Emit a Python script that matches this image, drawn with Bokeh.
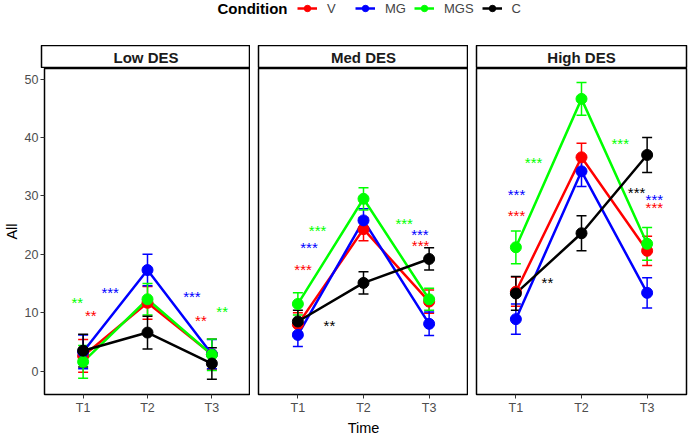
from bokeh.plotting import figure
from bokeh.models import (ColumnDataSource, Range1d, FixedTicker, Whisker, TeeHead,
                          Label, Legend, LegendItem)
from bokeh.layouts import column, row
from bokeh.embed import file_html
from bokeh.resources import INLINE
from bokeh.core.properties import value

FONT = "Liberation Sans"

# ---------------- data ----------------
times = ["T1", "T2", "T3"]
time_pos = [1, 2, 3]
panels = ["Low DES", "Med DES", "High DES"]
conditions = ["V", "MG", "MGS", "C"]
cond_colors = ["#FF0000", "#0000FF", "#00FF00", "#000000"]

# means (All) per panel and condition
low_V = [2.6, 11.7, 2.9]
low_MG = [3.3, 17.3, 2.9]
low_MGS = [1.6, 12.3, 2.8]
low_C = [3.5, 6.6, 1.3]

med_V = [8.0, 24.3, 11.9]
med_MG = [6.2, 25.8, 8.1]
med_MGS = [11.5, 29.5, 12.3]
med_C = [8.5, 15.1, 19.2]

high_V = [13.6, 36.6, 20.6]
high_MG = [8.9, 34.2, 13.4]
high_MGS = [21.2, 46.6, 21.8]
high_C = [13.3, 23.6, 37.0]

# standard errors
low_V_se = [2.8, 2.8, 2.6]
low_MG_se = [2.9, 2.7, 2.5]
low_MGS_se = [2.8, 2.7, 2.7]
low_C_se = [2.8, 2.8, 2.7]

med_V_se = [2.0, 2.0, 2.0]
med_MG_se = [2.0, 2.0, 2.0]
med_MGS_se = [1.9, 1.9, 1.9]
med_C_se = [1.9, 1.9, 1.9]

high_V_se = [2.5, 2.4, 2.5]
high_MG_se = [2.6, 2.6, 2.6]
high_MGS_se = [2.8, 2.8, 2.8]
high_C_se = [2.9, 3.0, 3.0]

means = {
    "Low DES": [low_V, low_MG, low_MGS, low_C],
    "Med DES": [med_V, med_MG, med_MGS, med_C],
    "High DES": [high_V, high_MG, high_MGS, high_C],
}
ses = {
    "Low DES": [low_V_se, low_MG_se, low_MGS_se, low_C_se],
    "Med DES": [med_V_se, med_MG_se, med_MGS_se, med_C_se],
    "High DES": [high_V_se, high_MG_se, high_MGS_se, high_C_se],
}

# significance annotations
low_sig_x = [0.91, 1.12, 1.42, 2.69, 2.83, 3.16]
low_sig_y = [12.6, 10.4, 14.3, 13.6, 9.5, 11.1]
low_sig_label = ["**", "**", "***", "***", "**", "**"]
low_sig_cond = ["MGS", "V", "MG", "MG", "V", "MGS"]

med_sig_x = [1.30, 1.17, 1.08, 1.48, 2.62, 2.86, 2.87]
med_sig_y = [24.9, 22.0, 18.2, 8.7, 26.1, 24.2, 22.4]
med_sig_label = ["***", "***", "***", "**", "***", "***", "***"]
med_sig_cond = ["MGS", "MG", "V", "C", "MGS", "MG", "V"]

high_sig_x = [1.27, 1.01, 1.01, 1.48, 2.59, 2.84, 3.11, 3.11]
high_sig_y = [36.6, 31.1, 27.5, 16.0, 39.8, 31.4, 30.3, 28.8]
high_sig_label = ["***", "***", "***", "**", "***", "***", "***", "***"]
high_sig_cond = ["MGS", "MG", "V", "C", "MGS", "C", "MG", "V"]

sigs = {
    "Low DES": (low_sig_x, low_sig_y, low_sig_label, low_sig_cond),
    "Med DES": (med_sig_x, med_sig_y, med_sig_label, med_sig_cond),
    "High DES": (high_sig_x, high_sig_y, high_sig_label, high_sig_cond),
}

y_ticks = [0, 10, 20, 30, 40, 50]

color_of = dict(zip(conditions, cond_colors))

# ---------------- layout constants ----------------
LEG_H = 45
STRIP_H = 23
PANEL_H = 370
widths = [250, 218, 220]
lefts = [41, 8, 8]
rights = [0, 0, 2]


def base_fig(**kw):
    return figure(output_backend="svg", toolbar_location=None, **kw)


# ---------------- legend row ----------------
# The legend strip reuses the Low DES series as its (off-range) legend renderers.
leg = base_fig(width=688, height=LEG_H, x_range=Range1d(100, 101), y_range=Range1d(100, 101),
               x_axis_location=None, y_axis_location=None, min_border=0)
leg.grid.visible = False
leg.outline_line_color = None
items = []
for c, m in zip(conditions, means["Low DES"]):
    lr = leg.line(x=time_pos, y=m, line_color=color_of[c], line_width=2.5)
    sr = leg.scatter(x=time_pos, y=m, size=10, fill_color=color_of[c], line_color=color_of[c])
    items.append(LegendItem(label=c, renderers=[lr, sr]))
legend = Legend(items=items, orientation="horizontal", location=(297, LEG_H - 16),
                padding=0, margin=0, spacing=8, glyph_width=20, glyph_height=16,
                label_height=16, label_standoff=10, border_line_color=None,
                background_fill_alpha=0, label_text_font=FONT, label_text_font_size="13px",
                label_text_baseline="middle")
leg.add_layout(legend, "center")
leg.add_layout(Label(x=217, y=LEG_H - 8, x_units="screen", y_units="screen", text="Condition",
                     text_font=FONT, text_font_size="15px", text_font_style="bold",
                     text_baseline="middle", text_color="black"))

# ---------------- strips and panels ----------------
strips = []
figs = []
for i, pname in enumerate(panels):
    s = base_fig(width=widths[i], height=STRIP_H, x_range=Range1d(0, 1), y_range=Range1d(0, 1),
                 x_axis_location=None, y_axis_location=None,
                 min_border_left=lefts[i], min_border_right=rights[i],
                 min_border_top=0, min_border_bottom=0)
    s.grid.visible = False
    s.outline_line_color = "black"
    s.outline_line_width = 1.5
    s.add_layout(Label(x=0.5, y=0.5, text=pname, text_align="center", text_baseline="middle",
                       text_font=FONT, text_font_size="15px", text_font_style="bold",
                       text_color="#1A1A1A"))
    strips.append(s)

    p = base_fig(width=widths[i], height=PANEL_H, x_range=Range1d(0.4, 3.6),
                 y_range=Range1d(-4.0, 51.8),
                 y_axis_location="left" if i == 0 else None,
                 min_border_left=lefts[i], min_border_right=rights[i],
                 min_border_top=0, min_border_bottom=36)
    p.grid.visible = False
    p.outline_line_color = "black"
    p.outline_line_width = 1.5
    p.background_fill_color = "white"

    p.xaxis.ticker = FixedTicker(ticks=time_pos)
    p.xaxis.major_label_overrides = {t: lab for t, lab in zip(time_pos, times)}
    p.xaxis.axis_label = "Time" if i == 1 else " "
    for ax in p.axis:
        ax.axis_line_color = None
        ax.major_tick_line_color = "#333333"
        ax.major_tick_out = 4
        ax.major_tick_in = 0
        ax.minor_tick_line_color = None
        ax.major_label_text_color = "#4D4D4D"
        ax.major_label_text_font = FONT
        ax.major_label_text_font_size = "12.5px"
        ax.major_label_standoff = 2
        ax.axis_label_text_font = FONT
        ax.axis_label_text_font_size = "14.5px"
        ax.axis_label_text_font_style = "normal"
        ax.axis_label_text_color = "black"
        ax.axis_label_standoff = 2
    if i == 0:
        p.yaxis.ticker = FixedTicker(ticks=y_ticks)
        p.yaxis.axis_label = "All"

    srcs = []
    for c, m, se in zip(conditions, means[pname], ses[pname]):
        srcs.append((c, ColumnDataSource(dict(
            x=time_pos, y=m,
            upper=[a + b for a, b in zip(m, se)],
            lower=[a - b for a, b in zip(m, se)]))))
    for c, src in srcs:
        p.line("x", "y", source=src, line_color=color_of[c], line_width=2.5)
    for c, src in srcs:
        p.scatter("x", "y", source=src, size=11, fill_color=color_of[c], line_color=color_of[c])
    for c, src in srcs:
        p.add_layout(Whisker(source=src, base="x", upper="upper", lower="lower",
                             line_color=color_of[c], line_width=1.5,
                             upper_head=TeeHead(size=10, line_color=color_of[c], line_width=1.5),
                             lower_head=TeeHead(size=10, line_color=color_of[c], line_width=1.5)))

    sx, sy, sl, sc = sigs[pname]
    ssrc = ColumnDataSource(dict(x=sx, y=sy, label=sl, color=[color_of[c] for c in sc]))
    p.text(x="x", y="y", text="label", text_color="color", source=ssrc,
           text_font=value(FONT), text_font_size="15px", text_align="center",
           text_baseline="middle", y_offset=5)
    figs.append(p)

layout = column(leg, row(*strips), row(*figs))

open("out.html", "w").write(file_html(layout, INLINE))
